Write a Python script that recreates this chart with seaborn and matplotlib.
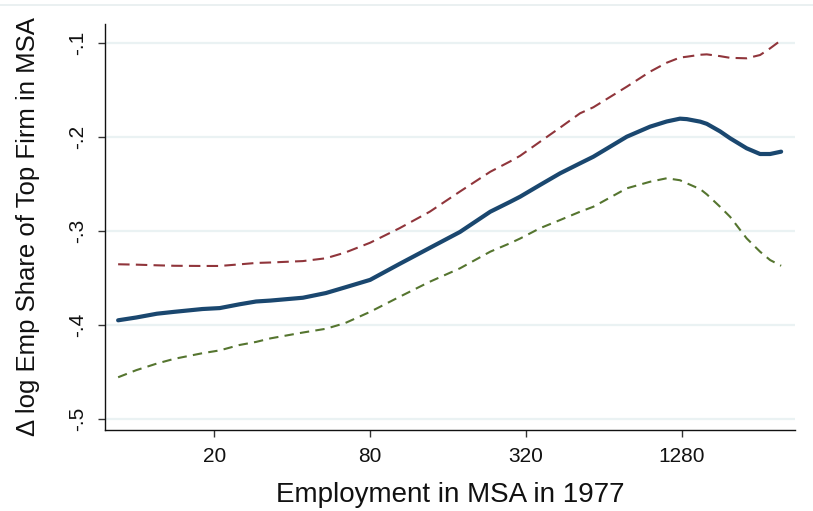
import numpy as np
import pandas as pd
import matplotlib
matplotlib.use("Agg")
import matplotlib.pyplot as plt
from matplotlib.lines import Line2D
from matplotlib.ticker import FixedLocator, FixedFormatter, NullLocator
import seaborn as sns

# === Data ===
emp = [8.5, 10, 12, 14, 18, 21, 25, 29, 33, 44, 54, 64, 80, 104, 136, 178,
       233, 278, 304, 363, 434, 518, 583, 785, 966, 1120, 1260, 1340, 1510,
       1600, 1800, 1970, 2280, 2570, 2810, 3100]

fit = [-0.395, -0.392, -0.388, -0.386, -0.383, -0.382, -0.378, -0.375,
       -0.374, -0.371, -0.366, -0.360, -0.352, -0.335, -0.318, -0.301,
       -0.2795, -0.269, -0.2635, -0.251, -0.2386, -0.228, -0.221, -0.1997,
       -0.189, -0.1835, -0.1805, -0.181, -0.1837, -0.186, -0.194, -0.2014,
       -0.212, -0.2181, -0.2181, -0.2156]

upper = [-0.3354, -0.3358, -0.3365, -0.337, -0.3372, -0.3372, -0.3355,
         -0.334, -0.3335, -0.332, -0.329, -0.323, -0.3125, -0.297, -0.2795,
         -0.258, -0.237, -0.226, -0.220, -0.205, -0.190, -0.1748, -0.1684,
         -0.1465, -0.1305, -0.121, -0.1155, -0.1146, -0.1125, -0.1121,
         -0.114, -0.1158, -0.1163, -0.1128, -0.1057, -0.097]

lower = [-0.4556, -0.448, -0.441, -0.436, -0.430, -0.427, -0.4213, -0.418,
         -0.4142, -0.408, -0.404, -0.398, -0.386, -0.370, -0.354, -0.3397,
         -0.322, -0.313, -0.308, -0.297, -0.2883, -0.2795, -0.2742, -0.2546,
         -0.2476, -0.2439, -0.246, -0.2493, -0.2555, -0.261, -0.2742, -0.285,
         -0.3078, -0.322, -0.3309, -0.337]

x_ticks = [20, 80, 320, 1280]
x_tick_labels = ["20", "80", "320", "1280"]
y_ticks = [-0.5, -0.4, -0.3, -0.2, -0.1]
y_tick_labels = ["-.5", "-.4", "-.3", "-.2", "-.1"]

df = pd.concat([
    pd.DataFrame({"emp": emp, "val": fit, "series": "fit"}),
    pd.DataFrame({"emp": emp, "val": upper, "series": "upper"}),
    pd.DataFrame({"emp": emp, "val": lower, "series": "lower"}),
], ignore_index=True)

sns.set_style("white")
plt.rcParams["font.family"] = ["Liberation Sans", "DejaVu Sans"]

fig = plt.figure(figsize=(8.13, 5.11), dpi=100)
ax = fig.add_axes([105 / 813, 81 / 511, 690 / 813, 406 / 511])

palette = {"fit": "#1a476f", "upper": "#90353b", "lower": "#55752f"}
dashes = {"fit": "", "upper": (5.5, 3.0), "lower": (4.5, 3.0)}

# dashed bands first, then the fit on top
for name, lw in [("upper", 1.5), ("lower", 1.5), ("fit", 3.0)]:
    sub = df[df["series"] == name]
    sns.lineplot(data=sub, x="emp", y="val", hue="series", style="series",
                 palette=palette, dashes={name: dashes[name]},
                 estimator=None, sort=True, linewidth=lw, legend=False,
                 ax=ax, zorder=3)

ax.set_xscale("log", base=2)
ax.set_xlim(2 ** 2.919, 2 ** 11.776)
ax.set_ylim(-0.5117, -0.0798)

ax.xaxis.set_major_locator(FixedLocator(x_ticks))
ax.xaxis.set_major_formatter(FixedFormatter(x_tick_labels))
ax.xaxis.set_minor_locator(NullLocator())
ax.set_yticks(y_ticks)
ax.set_yticklabels(y_tick_labels, rotation=90, va="center")

ax.grid(axis="y", color="#eaf2f3", linewidth=1.6, zorder=0)
ax.grid(axis="x", visible=False)

sns.despine(ax=ax)
for side in ["left", "bottom"]:
    ax.spines[side].set_color("#111111")
    ax.spines[side].set_linewidth(1.0)

ax.tick_params(axis="both", which="major", length=5, width=1.0,
               color="#333333", labelsize=15, labelcolor="#111111",
               bottom=True, left=True)
ax.tick_params(axis="x", pad=7)
ax.tick_params(axis="y", pad=8)

ax.set_xlabel("Employment in MSA in 1977", fontsize=20, labelpad=12,
              color="#111111")
ax.set_ylabel("Δ log Emp Share of Top Firm in MSA", fontsize=18.5,
              labelpad=20, color="#111111")

# faint border line across the top of the image
fig.add_artist(Line2D([0, 1], [1 - 5 / 511, 1 - 5 / 511],
                      transform=fig.transFigure, color="#e6edef",
                      linewidth=1.2))

fig.savefig("out.png", dpi=100, facecolor="white")
